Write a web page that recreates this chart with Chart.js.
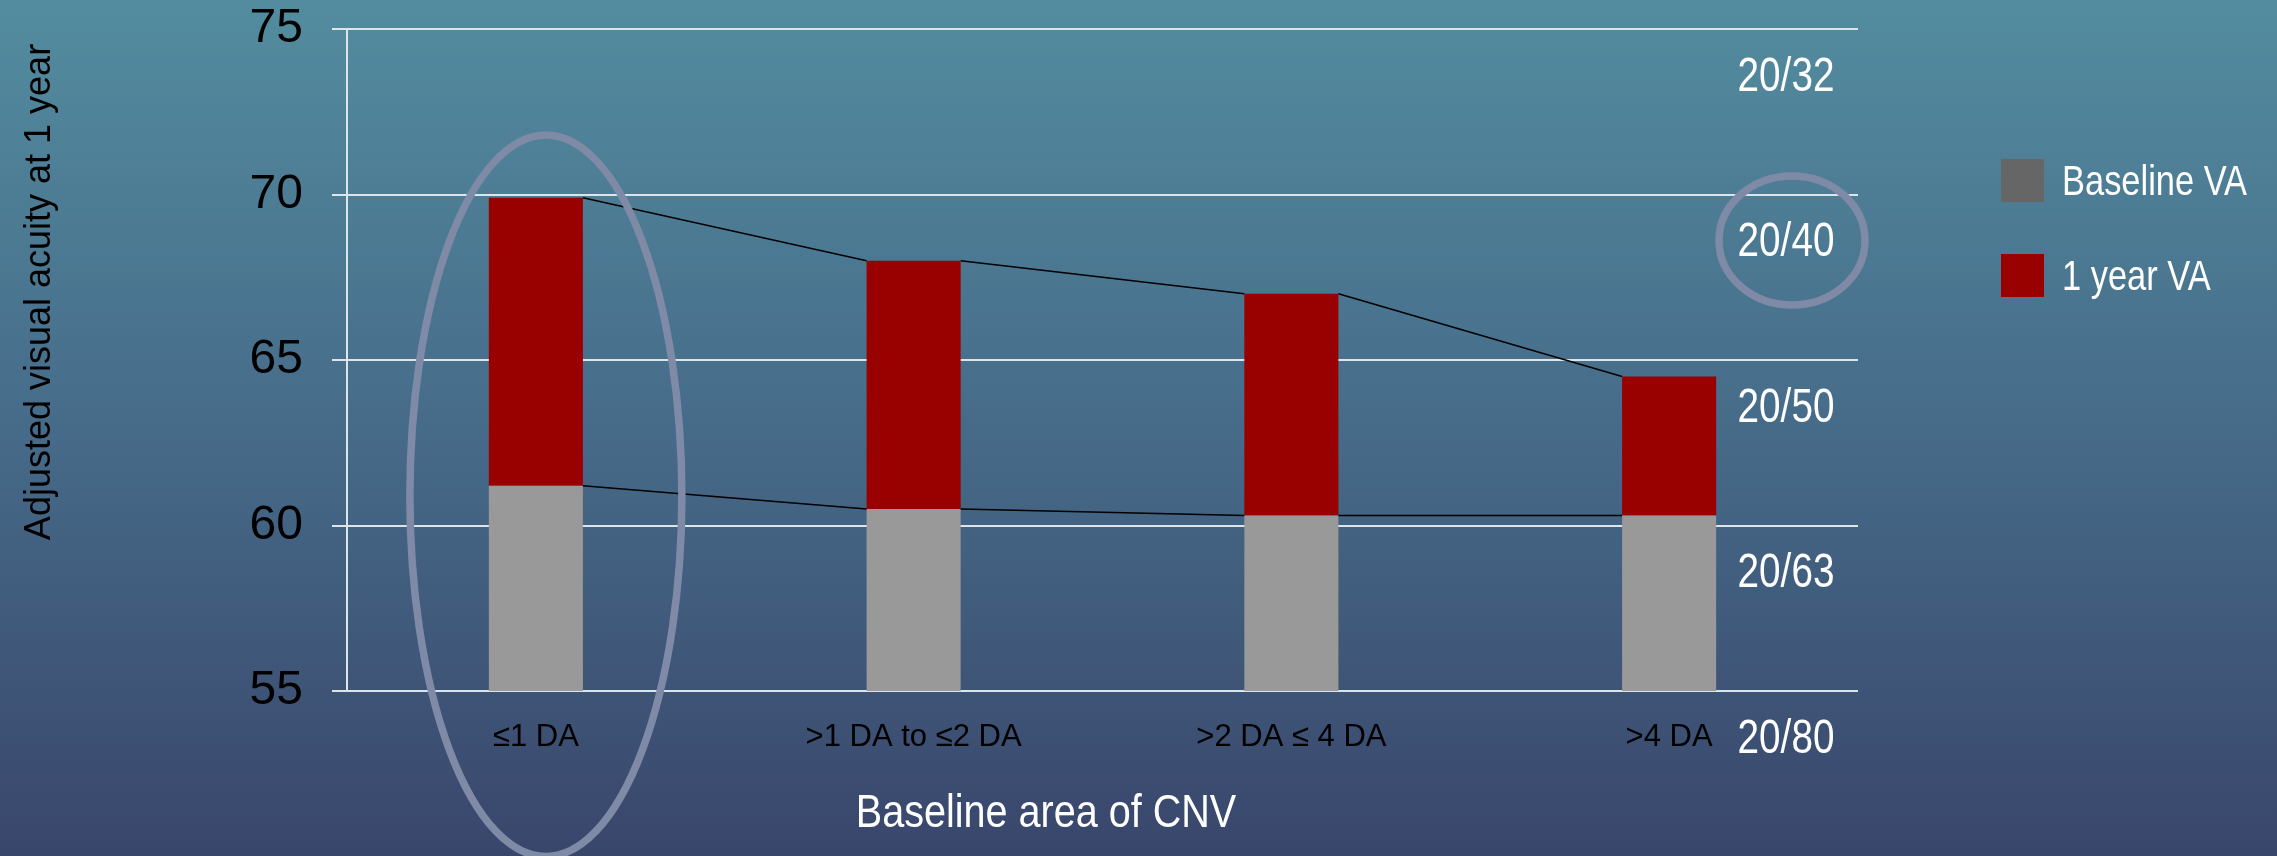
<!DOCTYPE html>
<html>
<head>
<meta charset="utf-8">
<script src="https://cdn.jsdelivr.net/npm/chart.js@4"></script>
<style>
  html, body { margin: 0; padding: 0; overflow: hidden; background: #46698a; }
  canvas { display: block; }
</style>
</head>
<body>
<canvas id="chart" width="2277" height="856"></canvas>
<script>
// Visual acuity (ETDRS letters) by baseline CNV area
const categories = ['≤1 DA', '>1 DA to ≤2 DA', '>2 DA ≤ 4 DA', '>4 DA'];
const baselineVA = [61.2, 60.5, 60.3, 60.3];
const oneYearVA = [69.9, 68.0, 67.0, 64.5];
const seriesNames = ['Baseline VA', '1 year VA'];

// Letter-score ticks and their Snellen equivalents
const yTicks = [55, 60, 65, 70, 75];
const snellenLabels = ['20/80', '20/63', '20/50', '20/40', '20/32'];

const xTitle = 'Baseline area of CNV';
const yTitle = 'Adjusted visual acuity at 1 year';

const SANS = '"Liberation Sans", Arial, sans-serif';
const GRID = '#dce6ea';
const RING = '#7f8aa7';

// Condensed text: regular face squeezed horizontally
function narrowText(ctx, text, x, y, align, squeeze) {
  const k = squeeze || 0.82;
  ctx.save();
  ctx.translate(x, y);
  ctx.scale(k, 1);
  ctx.textAlign = align;
  ctx.fillText(text, 0, 0);
  ctx.restore();
}

// Slide-style vertical gradient behind everything
const backdrop = {
  id: 'backdrop',
  beforeDraw(chart) {
    const { ctx, width, height } = chart;
    const g = ctx.createLinearGradient(0, 0, 0, height);
    g.addColorStop(0, '#538c9f');
    g.addColorStop(0.5, '#466b89');
    g.addColorStop(1, '#39466b');
    ctx.save();
    ctx.fillStyle = g;
    ctx.fillRect(0, 0, width, height);
    ctx.restore();
  }
};

// Thin connectors between neighbouring bar tops of each series
const seriesLines = {
  id: 'seriesLines',
  afterDatasetsDraw(chart) {
    const ctx = chart.ctx;
    ctx.save();
    ctx.strokeStyle = '#000';
    ctx.lineWidth = 1.5;
    chart.data.datasets.forEach((ds, di) => {
      const bars = chart.getDatasetMeta(di).data;
      ctx.beginPath();
      for (let i = 0; i < bars.length - 1; i++) {
        const a = bars[i], b = bars[i + 1];
        ctx.moveTo(a.x + a.width / 2, a.y);
        ctx.lineTo(b.x - b.width / 2, b.y);
      }
      ctx.stroke();
    });
    ctx.restore();
  }
};

// Snellen column, axis titles, legend and highlight rings
const decorations = {
  id: 'decorations',
  afterDraw(chart, args, opts) {
    const { ctx, chartArea, scales } = chart;
    const y = scales.y;
    ctx.save();
    ctx.textBaseline = 'middle';

    // Snellen equivalents, placed just below each gridline
    ctx.fillStyle = '#fff';
    ctx.font = '49px ' + SANS;
    const snellenX = chartArea.right - 72;
    const snellenPos = {};
    yTicks.forEach((v, i) => {
      const py = y.getPixelForValue(v) + 46;
      narrowText(ctx, snellenLabels[i], snellenX, py + 2, 'center', 0.79);
      snellenPos[snellenLabels[i]] = { x: snellenX, y: py };
    });

    // Axis titles
    ctx.font = '46px ' + SANS;
    narrowText(ctx, xTitle, 1046, 814, 'center', 0.86);

    ctx.save();
    ctx.translate(40, 292);
    ctx.rotate(-Math.PI / 2);
    ctx.fillStyle = '#000';
    ctx.font = '36px ' + SANS;
    ctx.textAlign = 'center';
    ctx.fillText(yTitle, 0, 0);
    ctx.restore();

    // Legend
    ctx.font = '42px ' + SANS;
    chart.data.datasets.forEach((ds, i) => {
      const top = 159 + i * 95;
      ctx.fillStyle = opts.swatches[i];
      ctx.fillRect(2001, top, 43, 43);
      ctx.fillStyle = '#fff';
      narrowText(ctx, ds.label, 2062, top + 24, 'left', 0.82);
    });

    // Highlight rings
    ctx.strokeStyle = RING;
    ctx.lineWidth = 7.5;
    const bar = chart.getDatasetMeta(0).data[opts.ringCategory];
    const top = y.getPixelForValue(71.8), bottom = y.getPixelForValue(50.0);
    ctx.beginPath();
    ctx.ellipse(bar.x + 10, (top + bottom) / 2, 136, (bottom - top) / 2, 0, 0, Math.PI * 2);
    ctx.stroke();

    const s = snellenPos[opts.ringSnellen];
    ctx.beginPath();
    ctx.ellipse(s.x + 6, s.y, 73, 64.5, 0, 0, Math.PI * 2);
    ctx.stroke();

    ctx.restore();
  }
};

new Chart(document.getElementById('chart'), {
  type: 'bar',
  data: {
    labels: categories,
    datasets: [
      {
        label: seriesNames[0],
        data: baselineVA,
        backgroundColor: '#999999'
      },
      {
        label: seriesNames[1],
        data: baselineVA.map((b, i) => [b, oneYearVA[i]]),
        backgroundColor: '#990000'
      }
    ]
  },
  options: {
    responsive: false,
    devicePixelRatio: 1,
    animation: false,
    categoryPercentage: 1,
    barPercentage: 0.249,
    layout: { padding: { left: 0, right: 419, top: 0, bottom: 0 } },
    plugins: {
      legend: { display: false },
      tooltip: { enabled: false },
      decorations: { swatches: ['#666666', '#990000'], ringCategory: 0, ringSnellen: '20/40' }
    },
    scales: {
      x: {
        stacked: true,
        grid: { display: false, drawTicks: false },
        border: { display: false },
        ticks: { color: '#000', font: { family: SANS, size: 31 }, padding: 28, maxRotation: 0, autoSkip: false },
        afterFit(scale) { scale.height = 165; }
      },
      y: {
        min: 55,
        max: 75,
        afterBuildTicks(scale) { scale.ticks = yTicks.map(v => ({ value: v })); },
        ticks: { color: '#000', font: { family: SANS, size: 48 }, padding: 29 },
        grid: { color: GRID, lineWidth: 2, tickLength: 15, drawTicks: true },
        border: { display: true, color: GRID, width: 2 },
        afterFit(scale) {
          scale.width = 347;
          scale.paddingTop = 29;
          scale.paddingBottom = 29;
        }
      }
    }
  },
  plugins: [backdrop, seriesLines, decorations]
});
</script>
</body>
</html>
